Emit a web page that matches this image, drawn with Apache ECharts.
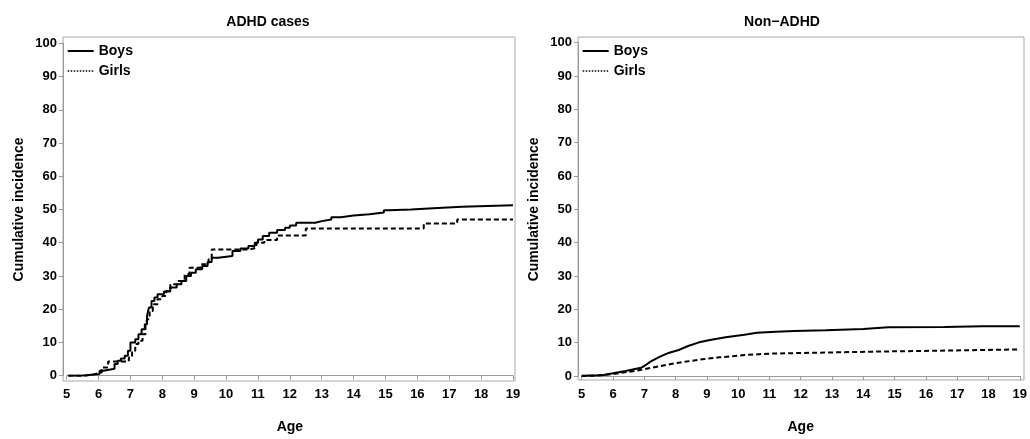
<!DOCTYPE html>
<html>
<head>
<meta charset="utf-8">
<script src="https://cdn.jsdelivr.net/npm/echarts@6/dist/echarts.min.js"></script>
<style>
html,body{margin:0;padding:0;background:#fff;}
#chart{width:1030px;height:439px;}
</style>
</head>
<body>
<div id="chart"></div>
<script>
// ---- data ----
const panelTitles = ['ADHD cases', 'Non\u2212ADHD'];
const seriesNames = ['Boys', 'Girls'];
const xTicks = [5,6,7,8,9,10,11,12,13,14,15,16,17,18,19];
const yTicks = [0,10,20,30,40,50,60,70,80,90,100];
const xAxisTitle = 'Age';
const yAxisTitle = 'Cumulative incidence';

// ADHD cases (step curves): [age, cumulative incidence %]
const adhdBoys = [[5.05,0],[5.45,0.5],[6.03,1.5],[6.15,2.1],[6.5,3.5],[6.6,4.5],[6.7,5.2],[6.82,6],[6.92,7.5],[7.0,10],[7.15,11],[7.25,12.5],[7.35,14],[7.45,15.5],[7.52,18],[7.58,20.5],[7.66,22.5],[7.75,23.5],[7.85,24.5],[8.05,25.3],[8.25,26.5],[8.45,27.5],[8.6,28.5],[8.75,30],[8.9,31],[9.05,32],[9.25,33],[9.42,34.2],[9.55,35.5],[9.75,36],[10.2,37.5],[10.45,38.3],[10.7,39],[10.9,40],[11.0,41],[11.15,42],[11.35,43],[11.6,43.8],[11.85,44.5],[12.0,45.2],[12.2,46],[12.8,46.5],[13.0,47],[13.3,47.7],[13.6,48.2],[14.0,48.6],[14.5,49.1],[14.95,49.8],[15.1,50],[15.8,50.4],[16.5,50.8],[17.4,51.3],[19.0,51.3]];
const adhdGirls = [[5.05,0],[5.6,0.4],[5.85,1],[6.1,2.5],[6.3,4.3],[6.95,5.5],[7.05,7.5],[7.15,9.5],[7.25,10.5],[7.38,12.5],[7.47,15],[7.52,17],[7.6,19.5],[7.7,21.5],[7.85,23],[8.0,24],[8.12,25.5],[8.25,27.5],[8.5,28.5],[8.7,30.5],[8.85,32.5],[9.2,33.5],[9.45,35],[9.55,38],[10.75,38.5],[10.95,40],[11.2,40.8],[11.6,42.2],[12.5,44.3],[16.2,45.8],[17.25,47],[19.0,47]];

// Non-ADHD
const nonBoys = [[5,0.1],[5.5,0.2],[5.7,0.3],[6.0,0.8],[6.4,1.5],[6.9,2.5],[7.0,3.0],[7.2,4.3],[7.5,5.8],[7.8,7.0],[8.1,7.8],[8.4,9.0],[8.75,10.1],[9.1,10.8],[9.6,11.6],[10.2,12.4],[10.6,13.0],[11.2,13.3],[11.8,13.5],[12.8,13.7],[14.0,14.1],[14.8,14.6],[16.6,14.7],[17.8,14.9],[19,14.9]];
const nonGirls = [[5,0],[5.5,0.1],[6,0.6],[6.75,1.6],[7.4,2.8],[8.1,4.0],[8.85,5.0],[9.4,5.6],[10.2,6.3],[11.0,6.7],[12.0,6.9],[13.1,7.1],[14.3,7.3],[15.7,7.5],[17.9,7.8],[19,8.0]];

// ---- layout ----
const FONT = "'Liberation Sans', Arial, sans-serif";
const panels = [
  {outer:{left:63, top:37, width:452, height:344}, inner:{left:66.7, top:43.3, width:446.3, height:333.4}, titleX:263, data:[adhdBoys, adhdGirls], step:'end'},
  {outer:{left:578, top:37, width:446, height:343}, inner:{left:581.7, top:42.7, width:440.3, height:333.3}, titleX:777, data:[nonBoys, nonGirls], step:false}
];

const grid = [], xAxis = [], yAxis = [], series = [], title = [], legend = [];
const axisGray = '#9a9a9a';
const hiddenSymbol = {color:'rgba(0,0,0,0)', borderWidth:0, opacity:0};
panels.forEach((p, i) => {
  const og = grid.length;
  grid.push(Object.assign({show:true, borderColor:'#a8a8a8', borderWidth:1, backgroundColor:'transparent'}, p.outer));
  xAxis.push({gridIndex:og, type:'value', show:false, min:0, max:1});
  yAxis.push({gridIndex:og, type:'value', show:false, min:0, max:1});
  const ig = grid.length;
  grid.push(Object.assign({show:false}, p.inner));
  const xi = xAxis.length;
  xAxis.push({
    gridIndex:ig, type:'value', min:xTicks[0], max:xTicks[xTicks.length-1], interval:1,
    offset: (p.outer.top + p.outer.height) - (p.inner.top + p.inner.height),
    axisLine:{show:true, lineStyle:{color:axisGray, width:1}},
    axisTick:{show:true, length:4, lineStyle:{color:axisGray}},
    splitLine:{show:false},
    axisLabel:{color:'#000', fontSize:13, fontWeight:'bold', fontFamily:FONT, margin:8},
    name:xAxisTitle, nameLocation:'middle', nameGap:40,
    nameTextStyle:{color:'#000', fontSize:14, fontWeight:'bold', fontFamily:FONT}
  });
  const yi = yAxis.length;
  yAxis.push({
    gridIndex:ig, type:'value', min:yTicks[0], max:yTicks[yTicks.length-1], interval:10,
    offset: p.inner.left - p.outer.left,
    axisLine:{show:true, lineStyle:{color:axisGray, width:1}},
    axisTick:{show:true, length:4, lineStyle:{color:axisGray}},
    splitLine:{show:false},
    axisLabel:{color:'#000', fontSize:13, fontWeight:'bold', fontFamily:FONT, margin:6},
    name:yAxisTitle, nameLocation:'middle', nameGap:37,
    nameTextStyle:{color:'#000', fontSize:14, fontWeight:'bold', fontFamily:FONT}
  });
  title.push({text:panelTitles[i], left:p.titleX, top:10, textAlign:'center',
    textStyle:{color:'#000', fontSize:14, fontWeight:'bold', fontFamily:FONT}});
  series.push({name:seriesNames[0], type:'line', xAxisIndex:xi, yAxisIndex:yi, data:p.data[0],
    step:p.step, symbol:'none', lineStyle:{color:'#000', width:2, type:'solid'}, itemStyle:{color:'#000'}});
  series.push({name:seriesNames[1], type:'line', xAxisIndex:xi, yAxisIndex:yi, data:p.data[1],
    step:p.step, symbol:'none', lineStyle:{color:'#000', width:2, type:[5,3]}, itemStyle:{color:'#000'}});
  legend.push({
    left:p.inner.left, top:44, padding:0, orient:'vertical', itemWidth:26, itemHeight:14, itemGap:6,
    selectedMode:false,
    textStyle:{color:'#000', fontSize:14, fontWeight:'bold', fontFamily:FONT},
    data:[
      {name:seriesNames[0], itemStyle:hiddenSymbol, lineStyle:{color:'#000', width:2, type:'solid'}},
      {name:seriesNames[1], itemStyle:hiddenSymbol, lineStyle:{color:'#000', width:1.5, type:'dotted'}}
    ]
  });
});

const chart = echarts.init(document.getElementById('chart'), null, {renderer:'canvas'});
chart.setOption({
  animation:false,
  backgroundColor:'#fff',
  title, legend, grid, xAxis, yAxis, series
});
</script>
</body>
</html>
